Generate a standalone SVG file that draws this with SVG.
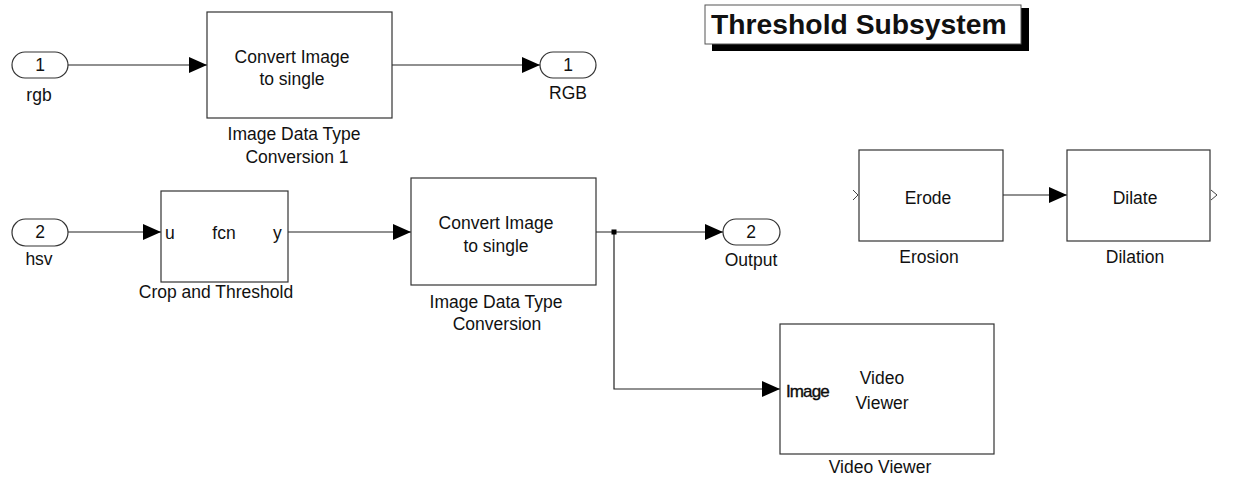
<svg xmlns="http://www.w3.org/2000/svg" width="1238" height="478" viewBox="0 0 1238 478">
  <style>
    text { font-family: "Liberation Sans", Arial, sans-serif; fill: #111111; }
    .blk { fill: #ffffff; stroke: #333333; stroke-width: 1.2; }
    .port { fill: #ffffff; stroke: #333333; stroke-width: 1.2; }
    .lbl { font-size: 17.5px; text-anchor: middle; }
    .pin { font-size: 17.5px; }
    .wire { fill: none; stroke: #222222; stroke-width: 1.2; }
    .chev { fill: none; stroke: #444444; stroke-width: 1; }
  </style>
  <defs>
    <marker id="arrow" markerUnits="userSpaceOnUse" markerWidth="20" markerHeight="18" refX="18" refY="8" orient="auto">
      <path d="M0,0 L18,8 L0,16 Z" fill="#000000"/>
    </marker>
  </defs>

  <rect width="1238" height="478" fill="#ffffff"/>

  <!-- signal lines -->
  <g id="connectors">
    <path class="wire" d="M68,65 H207" marker-end="url(#arrow)"/>
    <path class="wire" d="M392,65 H540" marker-end="url(#arrow)"/>
    <path class="wire" d="M68,232 H161" marker-end="url(#arrow)"/>
    <path class="wire" d="M288,232 H411" marker-end="url(#arrow)"/>
    <path class="wire" d="M596,232 H723" marker-end="url(#arrow)"/>
    <path class="wire" d="M614,232 V389 H780" marker-end="url(#arrow)"/>
    <rect x="611.5" y="229.5" width="5" height="5" fill="#000000"/>
    <path class="wire" d="M1003,195 H1067" marker-end="url(#arrow)"/>
  </g>

  <!-- inport rgb -->
  <g id="in_rgb">
    <rect class="port" x="12" y="52" width="56" height="26" rx="13" ry="13"/>
    <text class="lbl" x="40" y="71">1</text>
    <text class="lbl" x="39" y="101">rgb</text>
  </g>

  <!-- conversion block, rgb path -->
  <g id="conv1">
    <rect class="blk" x="207" y="12" width="185" height="106"/>
    <text class="lbl" x="292" y="63">Convert Image</text>
    <text class="lbl" x="292" y="85">to single</text>
    <text class="lbl" x="294" y="140">Image Data Type</text>
    <text class="lbl" x="297" y="163">Conversion  1</text>
  </g>

  <!-- outport RGB -->
  <g id="out_rgb">
    <rect class="port" x="540" y="52" width="56" height="26" rx="13" ry="13"/>
    <text class="lbl" x="568" y="71">1</text>
    <text class="lbl" x="568" y="99">RGB</text>
  </g>

  <!-- title annotation -->
  <g id="title">
    <rect x="712" y="44" width="317" height="7" fill="#000000"/>
    <rect x="1021" y="8" width="8" height="43" fill="#000000"/>
    <rect x="705" y="5" width="316" height="39" fill="#ffffff" stroke="#555555" stroke-width="1"/>
    <text x="711" y="34" font-size="28.3" font-weight="bold" fill="#000000">Threshold Subsystem</text>
  </g>

  <!-- inport hsv -->
  <g id="in_hsv">
    <rect class="port" x="12" y="219" width="56" height="27" rx="13.5" ry="13.5"/>
    <text class="lbl" x="40" y="238">2</text>
    <text class="lbl" x="39" y="265">hsv</text>
  </g>

  <!-- MATLAB function block -->
  <g id="crop">
    <rect class="blk" x="161" y="191" width="127" height="91"/>
    <text class="pin" x="165" y="239">u</text>
    <text class="lbl" x="224" y="239">fcn</text>
    <text class="pin" x="273" y="239">y</text>
    <text class="lbl" x="216" y="298">Crop and Threshold</text>
  </g>

  <!-- conversion block, hsv path -->
  <g id="conv2">
    <rect class="blk" x="411" y="178" width="185" height="107"/>
    <text class="lbl" x="496" y="229">Convert Image</text>
    <text class="lbl" x="496" y="252">to single</text>
    <text class="lbl" x="496" y="308">Image Data Type</text>
    <text class="lbl" x="497" y="330">Conversion</text>
  </g>

  <!-- outport Output -->
  <g id="out_output">
    <rect class="port" x="723" y="219" width="57" height="26" rx="13" ry="13"/>
    <text class="lbl" x="751" y="238">2</text>
    <text class="lbl" x="751" y="266">Output</text>
  </g>

  <!-- video viewer -->
  <g id="viewer">
    <rect class="blk" x="780" y="324" width="214" height="130"/>
    <text x="786" y="397" font-size="17" letter-spacing="-0.9" stroke="#000000" stroke-width="0.35" fill="#000000">Image</text>
    <text class="lbl" x="882" y="384">Video</text>
    <text class="lbl" x="882" y="409">Viewer</text>
    <text class="lbl" x="880" y="473">Video Viewer</text>
  </g>

  <!-- erosion -->
  <g id="erosion">
    <rect class="blk" x="859" y="150" width="144" height="91"/>
    <path class="chev" d="M853,190 L858,195 L853,200"/>
    <text class="lbl" x="928" y="204">Erode</text>
    <text class="lbl" x="929" y="263">Erosion</text>
  </g>

  <!-- dilation -->
  <g id="dilation">
    <rect class="blk" x="1067" y="150" width="143" height="91"/>
    <path class="chev" d="M1211,190 L1217,195 L1211,200"/>
    <text class="lbl" x="1135" y="204">Dilate</text>
    <text class="lbl" x="1135" y="263">Dilation</text>
  </g>
</svg>
